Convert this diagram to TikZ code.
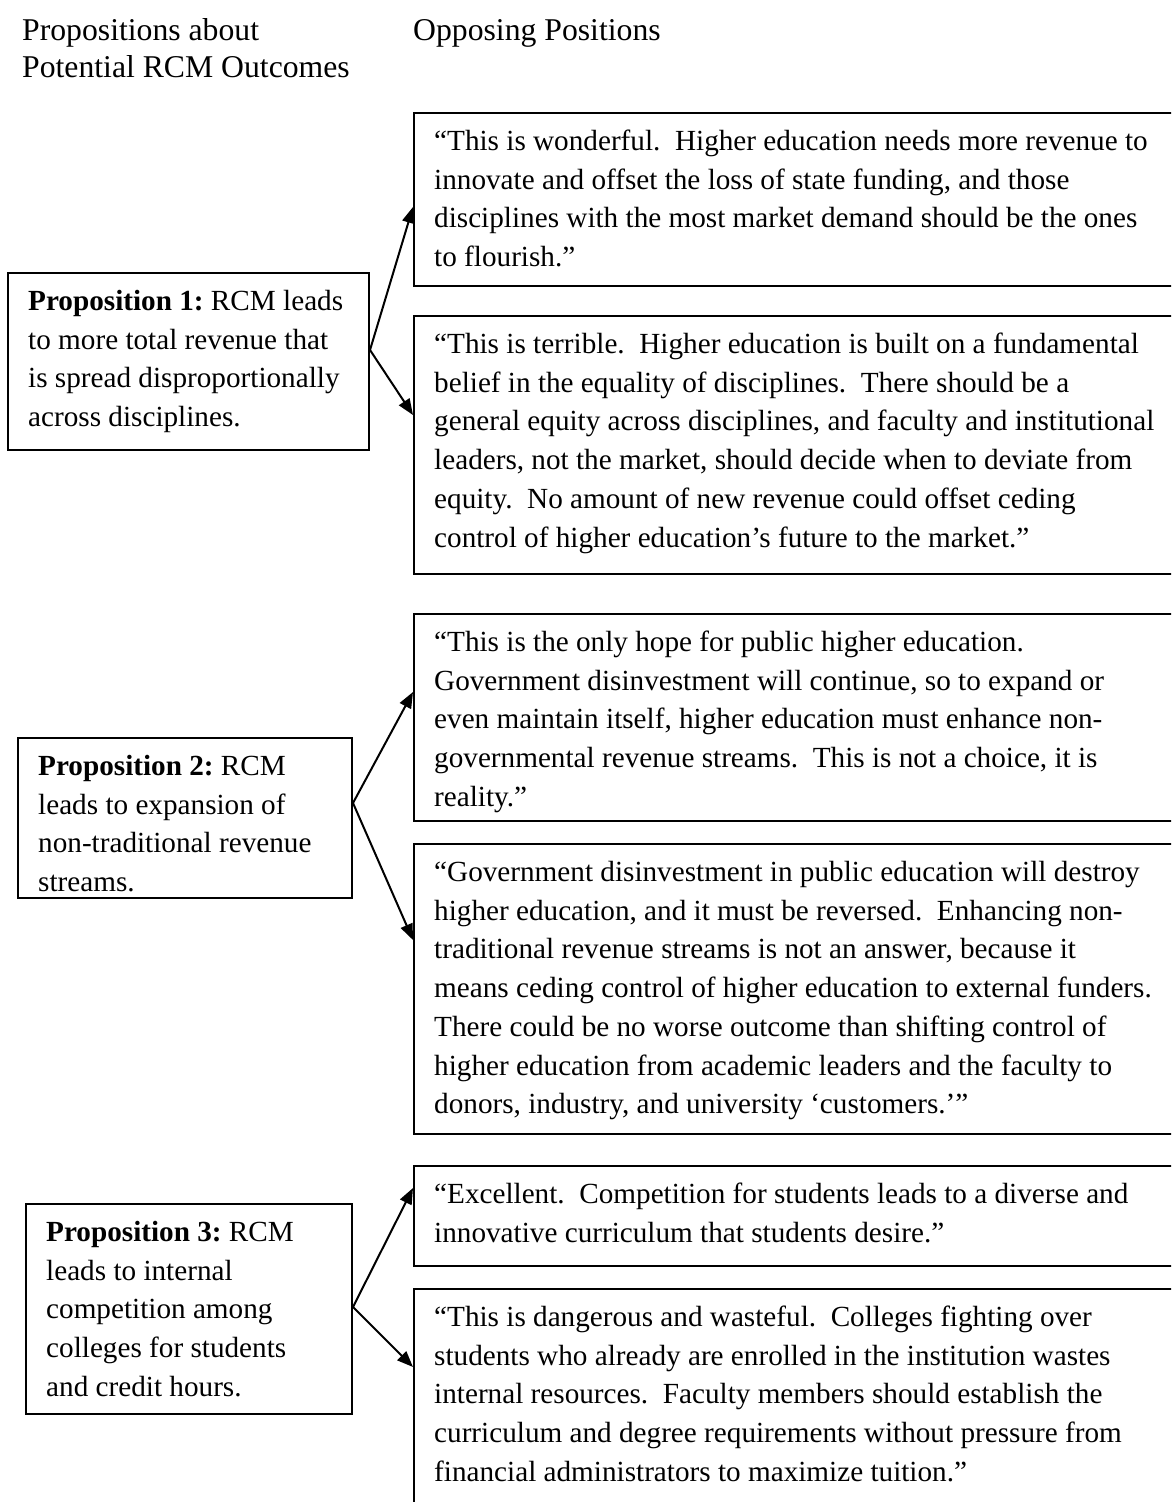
\documentclass[tikz,border=0pt]{standalone}
\usepackage{fontspec}
\setmainfont{Liberation Serif}[Ligatures=CommonOff]
\usetikzlibrary{arrows.meta}
\frenchspacing
\tikzset{
  box/.style={draw=black, line width=2pt, inner sep=0pt, anchor=north west},
  txt/.style={inner sep=0pt, anchor=base west, font=\fontsize{29.2}{38.7}\selectfont},
  head/.style={inner sep=0pt, anchor=base west, font=\fontsize{31.7}{37}\selectfont},
  arr/.style={line width=2pt, -{Triangle[length=16pt,width=12.5pt]}}
}
\newcommand{\tlines}[1]{\parbox[t]{760pt}{\raggedright #1}}
\begin{document}
\begin{tikzpicture}[x=1pt,y=-1pt]
\useasboundingbox (0,0) rectangle (1171,1502);
\clip (0,0) rectangle (1171,1502);

% headers
\node[head] (hL) at (22,40) {\parbox[t]{380pt}{Propositions about\\Potential RCM Outcomes}};
\node[head] (hR) at (413,40) {Opposing Positions};

% boxes
\node[box, minimum width=361pt, minimum height=177pt] (P1) at (7,272) {};
\node[box, minimum width=334pt, minimum height=160pt] (P2) at (17,737) {};
\node[box, minimum width=326pt, minimum height=210pt] (P3) at (25,1203) {};
\node[box, minimum width=780pt, minimum height=173pt] (A1) at (413,112) {};
\node[box, minimum width=780pt, minimum height=258pt] (B1) at (413,315) {};
\node[box, minimum width=780pt, minimum height=207pt] (A2) at (413,613) {};
\node[box, minimum width=780pt, minimum height=290pt] (B2) at (413,843) {};
\node[box, minimum width=780pt, minimum height=100pt] (A3) at (413,1165) {};
\node[box, minimum width=780pt, minimum height=260pt] (B3) at (413,1288) {};

% texts
\node[txt] (tP1) at ([xshift=21pt,yshift=-38.5pt]P1.north west) {\tlines{\textbf{Proposition 1:} RCM leads\\to more total revenue that\\is spread disproportionally\\across disciplines.}};
\node[txt] (tP2) at ([xshift=21pt,yshift=-38.5pt]P2.north west) {\tlines{\textbf{Proposition 2:} RCM\\leads to expansion of\\non-traditional revenue\\streams.}};
\node[txt] (tP3) at ([xshift=21pt,yshift=-38.5pt]P3.north west) {\tlines{\textbf{Proposition 3:} RCM\\leads to internal\\competition among\\colleges for students\\and credit hours.}};

\node[txt] (tA1) at ([xshift=21pt,yshift=-38.5pt]A1.north west) {\tlines{“This is wonderful.\ \ Higher education needs more revenue to\\innovate and offset the loss of state funding, and those\\disciplines with the most market demand should be the ones\\to flourish.”}};
\node[txt] (tB1) at ([xshift=21pt,yshift=-38.5pt]B1.north west) {\tlines{“This is terrible.\ \ Higher education is built on a fundamental\\belief in the equality of disciplines.\ \ There should be a\\general equity across disciplines, and faculty and institutional\\leaders, not the market, should decide when to deviate from\\equity.\ \ No amount of new revenue could offset ceding\\control of higher education’s future to the market.”}};
\node[txt] (tA2) at ([xshift=21pt,yshift=-38.5pt]A2.north west) {\tlines{“This is the only hope for public higher education.\\Government disinvestment will continue, so to expand or\\even maintain itself, higher education must enhance non-\\governmental revenue streams.\ \ This is not a choice, it is\\reality.”}};
\node[txt] (tB2) at ([xshift=21pt,yshift=-38.5pt]B2.north west) {\tlines{“Government disinvestment in public education will destroy\\higher education, and it must be reversed.\ \ Enhancing non-\\traditional revenue streams is not an answer, because it\\means ceding control of higher education to external funders.\\There could be no worse outcome than shifting control of\\higher education from academic leaders and the faculty to\\donors, industry, and university ‘customers.’”}};
\node[txt] (tA3) at ([xshift=21pt,yshift=-38.5pt]A3.north west) {\tlines{“Excellent.\ \ Competition for students leads to a diverse and\\innovative curriculum that students desire.”}};
\node[txt] (tB3) at ([xshift=21pt,yshift=-38.5pt]B3.north west) {\tlines{“This is dangerous and wasteful.\ \ Colleges fighting over\\students who already are enrolled in the institution wastes\\internal resources.\ \ Faculty members should establish the\\curriculum and degree requirements without pressure from\\financial administrators to maximize tuition.”}};

% arrows
\draw[arr] ([yshift=-78pt]P1.north east) -- ([yshift=-95pt]A1.north west);
\draw[arr] ([yshift=-78pt]P1.north east) -- ([yshift=-100pt]B1.north west);
\draw[arr] ([yshift=-66pt]P2.north east) -- ([yshift=-79pt]A2.north west);
\draw[arr] ([yshift=-66pt]P2.north east) -- ([yshift=-97pt]B2.north west);
\draw[arr] ([yshift=-104pt]P3.north east) -- ([yshift=-23pt]A3.north west);
\draw[arr] ([yshift=-104pt]P3.north east) -- ([yshift=-79pt]B3.north west);
\end{tikzpicture}
\end{document}
